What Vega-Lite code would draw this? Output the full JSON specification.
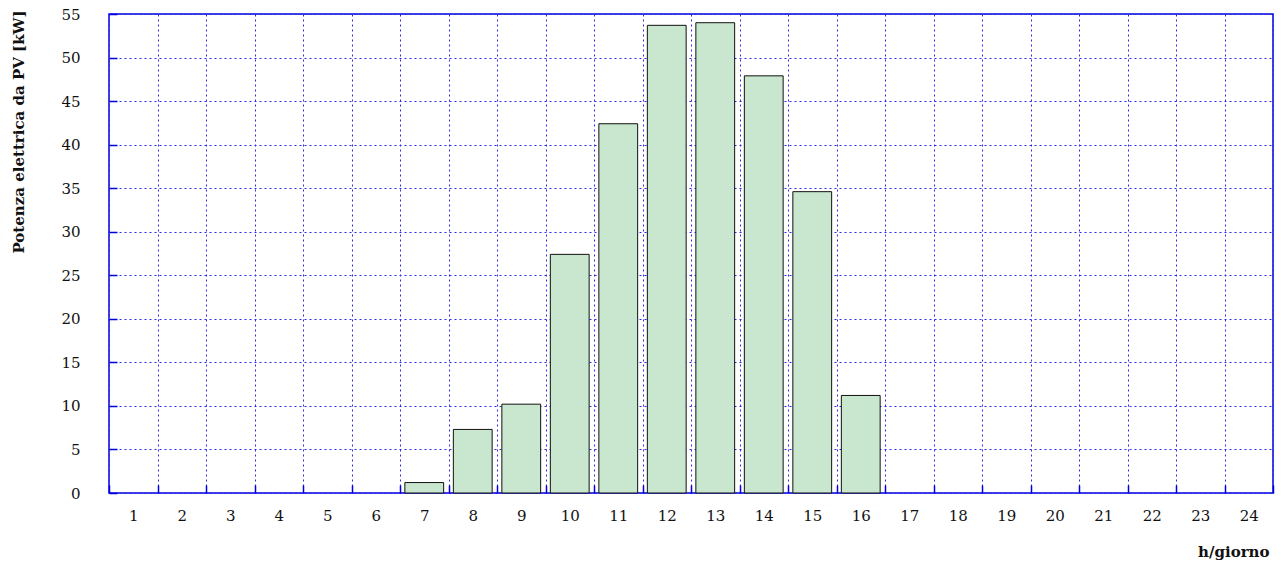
{
  "$schema": "https://vega.github.io/schema/vega-lite/v6.json",
  "width": 1164,
  "height": 479,
  "autosize": {"type": "none"},
  "padding": {"left": 109, "top": 14, "right": 12, "bottom": 74},
  "background": "white",
  "config": {
    "font": "DejaVu Serif",
    "view": {"stroke": "#0000e0", "strokeWidth": 1.5},
    "axis": {
      "domain": false,
      "gridColor": "#2a2ae8",
      "gridDash": [2, 3],
      "gridWidth": 1,
      "gridOpacity": 1,
      "tickColor": "#0000e0",
      "tickSize": -8,
      "tickWidth": 1.5,
      "labelFont": "DejaVu Serif",
      "labelFontSize": 15,
      "labelColor": "#111111",
      "titleFont": "DejaVu Serif",
      "titleFontSize": 15,
      "titleFontWeight": "bold",
      "titleColor": "#111111"
    }
  },
  "data": {
    "values": [
      {"ora": 1, "kW": 0},
      {"ora": 2, "kW": 0},
      {"ora": 3, "kW": 0},
      {"ora": 4, "kW": 0},
      {"ora": 5, "kW": 0},
      {"ora": 6, "kW": 0},
      {"ora": 7, "kW": 1.2},
      {"ora": 8, "kW": 7.3},
      {"ora": 9, "kW": 10.2},
      {"ora": 10, "kW": 27.4},
      {"ora": 11, "kW": 42.4},
      {"ora": 12, "kW": 53.7},
      {"ora": 13, "kW": 54.0},
      {"ora": 14, "kW": 47.9},
      {"ora": 15, "kW": 34.6},
      {"ora": 16, "kW": 11.2},
      {"ora": 17, "kW": 0},
      {"ora": 18, "kW": 0},
      {"ora": 19, "kW": 0},
      {"ora": 20, "kW": 0},
      {"ora": 21, "kW": 0},
      {"ora": 22, "kW": 0},
      {"ora": 23, "kW": 0},
      {"ora": 24, "kW": 0}
    ]
  },
  "mark": {
    "type": "bar",
    "width": {"band": 0.8},
    "fill": "#c9e6ce",
    "stroke": "#111111",
    "strokeWidth": 1
  },
  "encoding": {
    "x": {
      "field": "ora",
      "type": "ordinal",
      "scale": {"paddingInner": 0, "paddingOuter": 0},
      "axis": {
        "title": "h/giorno",
        "labelAngle": 0,
        "labelPadding": 23,
        "tickBand": "extent",
        "grid": true,
        "titleAnchor": "end",
        "titleAlign": "right",
        "titleBaseline": "alphabetic",
        "titleX": 1160,
        "titleY": 63
      }
    },
    "y": {
      "field": "kW",
      "type": "quantitative",
      "scale": {"domain": [0, 55], "nice": false},
      "axis": {
        "title": "Potenza elettrica da PV [kW]",
        "values": [0, 5, 10, 15, 20, 25, 30, 35, 40, 45, 50, 55],
        "labelPadding": 37,
        "grid": true,
        "titleAngle": -90,
        "titleAlign": "right",
        "titleAnchor": "end",
        "titleBaseline": "middle",
        "titleX": -91,
        "titleY": -4
      }
    },
    "strokeOpacity": {
      "condition": {"test": "datum.kW > 0", "value": 1},
      "value": 0
    }
  }
}
